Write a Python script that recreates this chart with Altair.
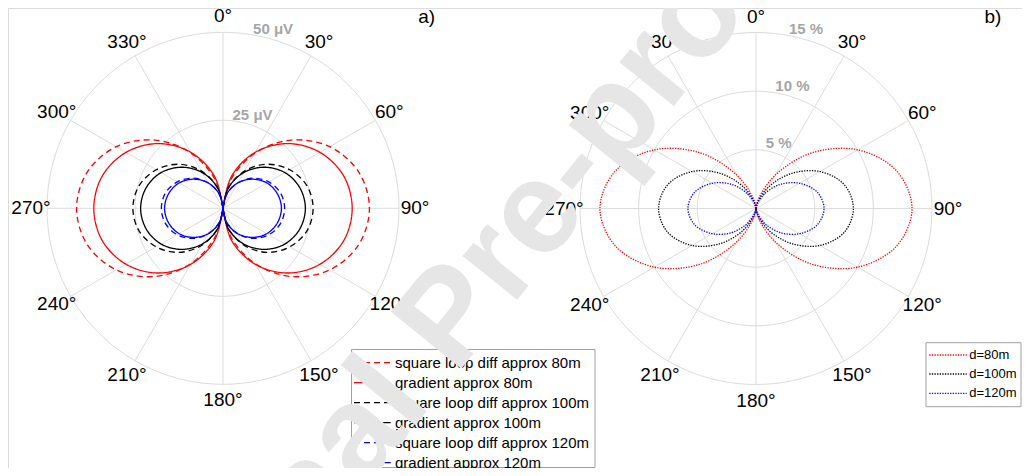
import math
import altair as alt
import pandas as pd

FONT = "Liberation Sans"
W, H = 1014, 460

# ---------------- data ----------------
angles = [0, 15, 30, 45, 60, 75, 90, 105, 120, 135, 150, 165, 180]   # degrees, right lobe

# panel a (µV)
names_a = ["square loop diff approx 80m", "gradient approx 80m",
           "square loop diff approx 100m", "gradient approx 100m",
           "square loop diff approx 120m", "gradient approx 120m"]
sq_80 = [0, 8.2, 18.1, 27.4, 35.0, 39.9, 41.6, 39.9, 35.0, 27.4, 18.1, 8.2, 0]
gr_80 = [0, 9.5, 18.4, 26.0, 31.8, 35.5, 36.7, 35.5, 31.8, 26.0, 18.4, 9.5, 0]
sq_100 = [0, 6.0, 12.2, 17.7, 21.9, 24.7, 25.6, 24.7, 21.9, 17.7, 12.2, 6.0, 0]
gr_100 = [0, 6.1, 11.7, 16.5, 20.3, 22.6, 23.4, 22.6, 20.3, 16.5, 11.7, 6.1, 0]
sq_120 = [0, 4.1, 8.3, 12.1, 15.0, 16.9, 17.5, 16.9, 15.0, 12.1, 8.3, 4.1, 0]
gr_120 = [0, 4.3, 8.3, 11.7, 14.4, 16.0, 16.6, 16.0, 14.4, 11.7, 8.3, 4.3, 0]
values_a = [sq_80, gr_80, sq_100, gr_100, sq_120, gr_120]
colors_a = ["#ff0000", "#ff0000", "#000000", "#000000", "#0000ff", "#0000ff"]

# panel b (%)
names_b = ["d=80m", "d=100m", "d=120m"]
d_80 = [0, 0.9, 3.3, 6.7, 10.0, 12.4, 13.3, 12.4, 10.0, 6.7, 3.3, 0.9, 0]
d_100 = [0, 0.56, 2.1, 4.2, 6.3, 7.8, 8.3, 7.8, 6.3, 4.2, 2.1, 0.56, 0]
d_120 = [0, 0.39, 1.44, 2.9, 4.3, 5.4, 5.8, 5.4, 4.3, 2.9, 1.44, 0.39, 0]
values_b = [d_80, d_100, d_120]
colors_b = ["#ff0000", "#000000", "#0000ff"]

rings_a = [25, 50]
ring_labels_a = ["25 μV", "50 μV"]
rings_b = [5, 10, 15]
ring_labels_b = ["5 %", "10 %", "15 %"]
spoke_angles = [0, 30, 60, 90, 120, 150, 180, 210, 240, 270, 300, 330]
spoke_labels = [f"{a}°" for a in spoke_angles]
panel_tags = ["a)", "b)"]
watermark = ["Journal Pre-proof"]

# ---------------- layout (pixels inside the plot area) ----------------
PAN = {
    "a": dict(cx=215.0, cy=200.3, R=176.0, rmax=50.0, rings=rings_a, rlab=ring_labels_a,
              names=names_a, vals=values_a),
    "b": dict(cx=748.0, cy=200.5, R=176.0, rmax=15.0, rings=rings_b, rlab=ring_labels_b,
              names=names_b, vals=values_b),
}
DASH, SOLID, DOT = [6, 4], [1, 0], [1.3, 1.3]
all_names = names_a + names_b
all_colors = colors_a + colors_b
all_dashes = [DASH, SOLID, DASH, SOLID, DASH, SOLID, DOT, DOT, DOT]


def pol(p, r, deg):
    k = p["R"] / p["rmax"]
    t = math.radians(deg)
    return p["cx"] + r * k * math.sin(t), p["cy"] - r * k * math.cos(t)


curve_rows, ring_rows, spoke_rows, lab_rows, rlab_rows = [], [], [], [], []
for key, p in PAN.items():
    for name, vals in zip(p["names"], p["vals"]):
        for lobe, sign in (("R", 1), ("L", -1)):
            for i, (a, r) in enumerate(zip(angles, vals)):
                ang = a if sign == 1 else 360 - a
                x, y = pol(p, r, ang)
                curve_rows.append(dict(series=name, lobe=f"{name}-{lobe}", i=i, x=x, y=y))
    for rv, rl in zip(p["rings"], p["rlab"]):
        for j in range(0, 361, 3):
            x, y = pol(p, rv, j)
            ring_rows.append(dict(ring=f"{key}{rv}", i=j, x=x, y=y))
        x, y = pol(p, rv, 13.5)
        rlab_rows.append(dict(x=x, y=y, t=rl))
    for a, t in zip(spoke_angles, spoke_labels):
        x2, y2 = pol(p, p["rmax"], a)
        spoke_rows.append(dict(x=p["cx"], y=p["cy"], x2=x2, y2=y2))
        lx, ly = pol(p, p["rmax"] * 192.0 / 176.0, a)
        lab_rows.append(dict(x=lx, y=ly, t=t))

curves = pd.DataFrame(curve_rows)
rings = pd.DataFrame(ring_rows)
spokes = pd.DataFrame(spoke_rows)
labs = pd.DataFrame(lab_rows)
rlabs = pd.DataFrame(rlab_rows)
tags = pd.DataFrame(dict(x=[418.7, 985.0], y=[9.0, 9.0], t=panel_tags))

# legends
leg_a = pd.DataFrame(dict(series=names_a, x=346.0, x2=382.7, tx=387.0,
                          y=[354.7 + 20 * i for i in range(len(names_a))]))
leg_b = pd.DataFrame(dict(series=names_b, x=921.3, x2=958.7, tx=961.3,
                          y=[347.0, 366.0, 385.3]))
boxes = pd.DataFrame(dict(x=[343.5, 918.0], x2=[587.0, 1013.0], y=[341.5, 334.7], y2=[459.5, 398.7]))
wm = pd.DataFrame(dict(x=[442.0], y=[311.0], t=watermark))

X = alt.X("x:Q", scale=alt.Scale(domain=[0, W], nice=False, zero=False), axis=None)
Y = alt.Y("y:Q", scale=alt.Scale(domain=[H, 0], nice=False, zero=False), axis=None)
COL = alt.Color("series:N", scale=alt.Scale(domain=all_names, range=all_colors), legend=None)
DSH = alt.StrokeDash("series:N", scale=alt.Scale(domain=all_names, range=all_dashes), legend=None)

grid_col = "#dcdcdc"
ring_layer = alt.Chart(rings).mark_line(color=grid_col, strokeWidth=1).encode(
    x=X, y=Y, detail="ring:N", order="i:Q")
spoke_layer = alt.Chart(spokes).mark_rule(color=grid_col, strokeWidth=1).encode(
    x=X, y=Y, x2="x2:Q", y2="y2:Q")
curve_layer = alt.Chart(curves).mark_line(strokeWidth=1.3, interpolate="catmull-rom").encode(
    x=X, y=Y, color=COL, strokeDash=DSH, detail="lobe:N", order="i:Q")
lab_layer = alt.Chart(labs).mark_text(font=FONT, fontSize=19, color="#000000",
                                      align="center", baseline="middle").encode(x=X, y=Y, text="t:N")
rlab_layer = alt.Chart(rlabs).mark_text(font=FONT, fontSize=15, fontWeight="bold", color="#a6a6a6",
                                        align="center", baseline="middle", dx=9, dy=-8).encode(
    x=X, y=Y, text="t:N")
tag_layer = alt.Chart(tags).mark_text(font=FONT, fontSize=19, color="#000000",
                                      align="center", baseline="middle").encode(x=X, y=Y, text="t:N")
box_layer = alt.Chart(boxes).mark_rect(fill="#ffffff", stroke="#a0a0a0", strokeWidth=1).encode(
    x=X, y=Y, x2="x2:Q", y2="y2:Q")
TX = alt.X("tx:Q", scale=alt.Scale(domain=[0, W], nice=False, zero=False), axis=None)
lega_lines = alt.Chart(leg_a).mark_rule(strokeWidth=1.3).encode(
    x=X, x2="x2:Q", y=Y, color=COL, strokeDash=DSH)
lega_text = alt.Chart(leg_a).mark_text(font=FONT, fontSize=15, align="left", baseline="middle",
                                       color="#000000").encode(x=TX, y=Y, text="series:N")
legb_lines = alt.Chart(leg_b).mark_rule(strokeWidth=1.3).encode(
    x=X, x2="x2:Q", y=Y, color=COL, strokeDash=DSH)
legb_text = alt.Chart(leg_b).mark_text(font=FONT, fontSize=13, align="left", baseline="middle",
                                       color="#000000").encode(x=TX, y=Y, text="series:N")
wm_layer = alt.Chart(wm).mark_text(font=FONT, fontSize=132, fontWeight="bold", color="#e6e6e6",
                                   angle=309, align="center", baseline="middle").encode(
    x=X, y=Y, text="t:N")

chart = alt.layer(
    ring_layer, spoke_layer, curve_layer, lab_layer, rlab_layer, tag_layer,
    box_layer, lega_lines, lega_text, legb_lines, legb_text, wm_layer
).properties(
    width=W, height=H, padding=0, autosize=alt.AutoSizeParams(type="none")
).configure_view(stroke=None).configure(background="#ffffff")

chart.save("out.html", embed_options={"renderer": "svg", "actions": False})
